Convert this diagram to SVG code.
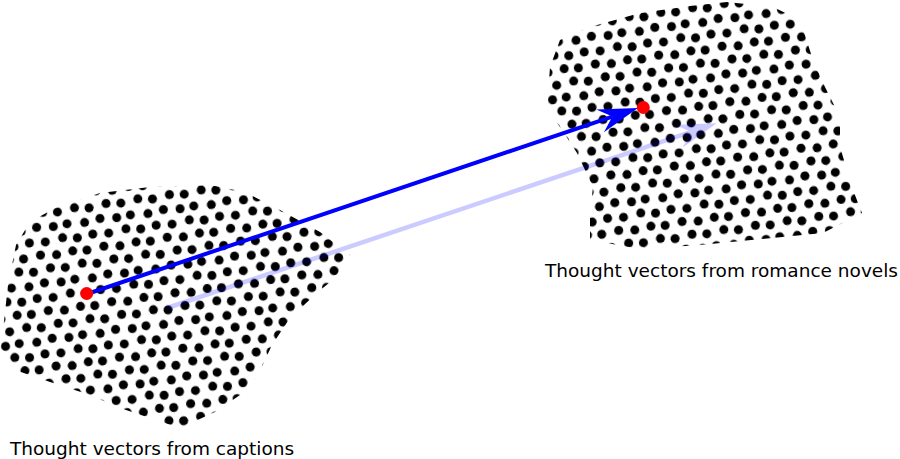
<svg xmlns="http://www.w3.org/2000/svg" width="900" height="459" viewBox="0 0 900 459">
<style>
.lbl{font-family:"DejaVu Sans","Liberation Sans",sans-serif;font-size:18.5px;fill:#000}
.red{fill:#ff0000}
.d{fill:#000}
</style>
<defs>
<pattern id="dots" patternUnits="userSpaceOnUse" width="64" height="56" patternTransform="rotate(-8)">
<g class="d">
<circle cx="4.6" cy="6.2" r="4.5"/><circle cx="21.3" cy="7.8" r="4.5"/><circle cx="35.2" cy="6.9" r="4.5"/><circle cx="52.8" cy="8.1" r="4.5"/>
<circle cx="11.2" cy="21.9" r="4.5"/><circle cx="28.9" cy="20.1" r="4.5"/><circle cx="43.5" cy="22.3" r="4.5"/><circle cx="59.3" cy="20.7" r="4.5"/>
<circle cx="4.6" cy="34.2" r="4.5"/><circle cx="20.6" cy="36.1" r="4.5"/><circle cx="37.1" cy="34.6" r="4.5"/><circle cx="51.3" cy="35.8" r="4.5"/>
<circle cx="12.7" cy="48.3" r="4.5"/><circle cx="27.4" cy="49.9" r="4.5"/><circle cx="44.8" cy="48.1" r="4.5"/><circle cx="59.3" cy="50.2" r="4.5"/>
</g>
</pattern>
<marker id="head" markerUnits="userSpaceOnUse" orient="auto" overflow="visible" refX="0" refY="0" markerWidth="1" markerHeight="1">
<path d="M27,0 L-13,-12 L0,0 L-13,12 Z" fill="#0000ff"/>
</marker>
</defs>
<g id="captions-cloud">
<path d="M3,330 L8,285 L16,245 L30,222 L55,208 L100,193 L150,187 L210,185 L245,192 L280,210 L320,232 L350,255 L335,278 L318,292 L290,318 L272,345 L258,375 L240,395 L215,412 L180,428 L150,418 L120,408 L90,395 L50,382 L15,370 L0,348 Z" fill="url(#dots)"/>
</g>
<g id="novels-cloud">
<path d="M560,40 L590,27 L640,13 L690,6 L727,2 L773,7 L800,20 L813,60 L823,83 L840,117 L840,147 L853,190 L862,213 L823,233 L700,245 L640,249 L590,240 L590,213 L593,187 L577,153 L560,127 L547,110 L550,67 Z" fill="url(#dots)"/>
</g>
<g id="connectors">
<g opacity="0.2">
<line x1="167" y1="308" x2="691.1" y2="131.9" stroke="#0000ff" stroke-width="4.5" marker-end="url(#head)"/>
</g>
<line x1="87" y1="294" x2="612.4" y2="116.6" stroke="#0000ff" stroke-width="4" marker-end="url(#head)"/>
</g>
<g id="point-caption"><circle class="red" cx="86.7" cy="293.5" r="6.5"/></g>
<g id="point-novel"><circle class="red" cx="643.3" cy="107.5" r="6.5"/></g>
<g id="label-captions"><text class="lbl" x="10" y="455">Thought vectors from captions</text></g>
<g id="label-novels"><text class="lbl" x="545" y="277">Thought vectors from romance novels</text></g>
</svg>
